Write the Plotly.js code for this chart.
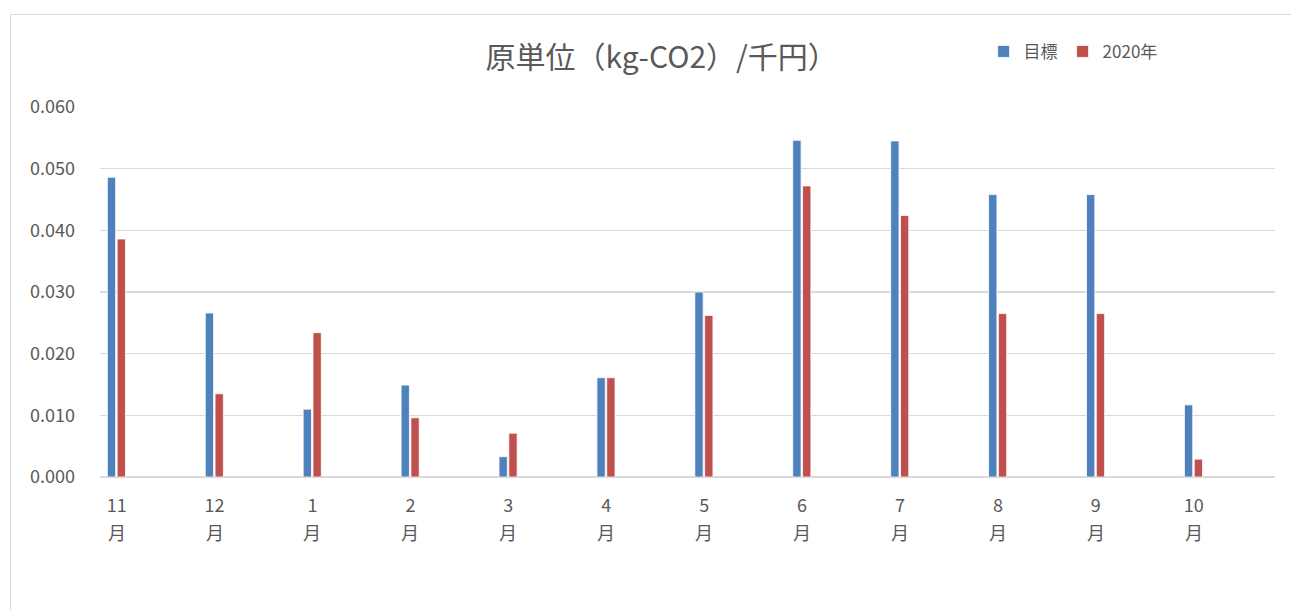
<!DOCTYPE html>
<html>
<head>
<meta charset="utf-8">
<script src="https://cdn.plot.ly/plotly-3.0.1.min.js"></script>
<style>
  html, body { margin: 0; padding: 0; background: #ffffff; }
  #chart { width: 1291px; height: 610px; position: absolute; left: 0; top: 0; }
  #frame { position: absolute; left: 10px; top: 14px; width: 1300px; height: 620px;
           border: 1px solid #d9d9d9; pointer-events: none; }
</style>
</head>
<body>
<div id="chart"></div>
<div id="frame"></div>
<script>
const months = ["11", "12", "1", "2", "3", "4", "5", "6", "7", "8", "9", "10"];
const monthSuffix = "月";
const target = [0.0486, 0.0266, 0.0110, 0.0149, 0.0033, 0.0161, 0.0300, 0.0546, 0.0545, 0.0458, 0.0458, 0.0117];
const actual2020 = [0.0386, 0.0135, 0.0234, 0.0096, 0.0071, 0.0161, 0.0262, 0.0472, 0.0424, 0.0265, 0.0265, 0.0029];
const seriesNames = ["目標", "2020年"];
const yTicks = [0, 0.01, 0.02, 0.03, 0.04, 0.05, 0.06];

const font = '"Noto Sans CJK JP", "Noto Sans", sans-serif';
const grey = '#595959';

const traces = [
  { type: 'bar', name: seriesNames[0], x: months, y: target,
    width: 0.085, offset: -0.095,
    marker: { color: '#4F81BD', line: { color: '#ffffff', width: 0.8 } } },
  { type: 'bar', name: seriesNames[1], x: months, y: actual2020,
    width: 0.085, offset: 0.005,
    marker: { color: '#C0504D', line: { color: '#ffffff', width: 0.8 } } }
];

// second line of each category label ("月"), placed under the month number by category index
const suffixAnnotations = months.map((m, i) => ({
  x: i, xref: 'x', y: 0, yref: 'y', yshift: -55, yanchor: 'middle', xanchor: 'center',
  text: monthSuffix, showarrow: false, font: { family: font, size: 18, color: grey }
}));

const layout = {
  width: 1291, height: 610,
  margin: { l: 100, r: 16, t: 107, b: 133 },
  paper_bgcolor: '#ffffff', plot_bgcolor: '#ffffff',
  barmode: 'overlay',
  font: { family: font, color: grey, size: 18 },
  title: { text: '原単位（kg-CO2）/千円）', x: 0.478, xref: 'paper', xanchor: 'center',
           y: 0.905, yanchor: 'middle',
           font: { family: font, size: 30, color: grey } },
  showlegend: true,
  legend: { orientation: 'h', x: 0.752, xanchor: 'left', y: 1.149, yanchor: 'middle',
            font: { family: font, size: 17, color: grey }, itemwidth: 30,
            traceorder: 'normal', bgcolor: 'rgba(0,0,0,0)' },
  annotations: suffixAnnotations,
  xaxis: { type: 'category', categoryorder: 'array', categoryarray: months,
           range: [-0.17, 11.83], showgrid: false, zeroline: false,
           showline: false, ticks: '', tickfont: { family: font, size: 18, color: grey },
           ticklabelstandoff: 16, fixedrange: true },
  yaxis: { range: [0, 0.06], tickvals: yTicks, tickformat: '.3f', showgrid: true,
           gridcolor: '#d9d9d9', gridwidth: 1.5, zeroline: true, zerolinecolor: '#d9d9d9',
           zerolinewidth: 1.5, showline: false, ticks: '',
           tickfont: { family: font, size: 18, color: grey }, ticklabelstandoff: 24,
           fixedrange: true }
};

Plotly.newPlot('chart', traces, layout, { displayModeBar: false, staticPlot: true });
</script>
</body>
</html>
